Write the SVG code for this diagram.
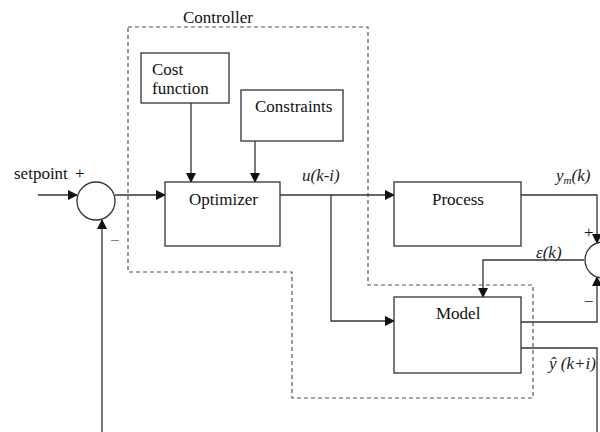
<svg xmlns="http://www.w3.org/2000/svg" width="600" height="432" viewBox="0 0 600 432">
<style>
.box{fill:#fff;stroke:#333;stroke-width:1.3}
.ln{fill:none;stroke:#333;stroke-width:1.3}
.dash{fill:none;stroke:#555;stroke-width:1.2;stroke-dasharray:4 3}
text{font-family:"Liberation Serif","Times New Roman",serif;font-size:17px;fill:#111}
.it{font-style:italic;fill:#222}
.sgn{fill:#666}
</style>
<defs>
<marker id="ah" markerWidth="10" markerHeight="10" refX="9" refY="5" orient="auto" markerUnits="userSpaceOnUse">
<path d="M0,0 L10,5 L0,10 z" fill="#111"/>
</marker>
</defs>
<rect width="600" height="432" fill="#fff"/>
<g id="controller">
<path class="dash" d="M128,27 H368 V285 H533 V398 H292 V272 H128 Z"/>
<text x="183" y="23">Controller</text>
</g>
<g id="connectors">
<line class="ln" x1="38" y1="195" x2="77" y2="195" marker-end="url(#ah)"/>
<line class="ln" x1="115" y1="195" x2="165" y2="195" marker-end="url(#ah)"/>
<line class="ln" x1="102" y1="432" x2="102" y2="220" marker-end="url(#ah)"/>
<line class="ln" x1="191" y1="103" x2="191" y2="182" marker-end="url(#ah)"/>
<line class="ln" x1="255" y1="141" x2="255" y2="182" marker-end="url(#ah)"/>
<line class="ln" x1="280" y1="195" x2="394" y2="195" marker-end="url(#ah)"/>
<polyline class="ln" points="331,195 331,321 394,321" marker-end="url(#ah)"/>
<polyline class="ln" points="521,195 597,195 597,243" marker-end="url(#ah)"/>
<polyline class="ln" points="521,322 597,322 597,277" marker-end="url(#ah)"/>
<polyline class="ln" points="584,260 483,260 483,297" marker-end="url(#ah)"/>
<polyline class="ln" points="521,348 597,348 597,432"/>
</g>
<g id="sum1">
<circle class="box" cx="96" cy="201" r="19"/>
<text x="14" y="179">setpoint</text>
<text x="75" y="179">+</text>
<text class="sgn" x="110" y="246">−</text>
</g>
<g id="cost">
<rect class="box" x="141" y="53" width="88" height="50"/>
<text x="152" y="75">Cost</text>
<text x="152" y="94">function</text>
</g>
<g id="constraints">
<rect class="box" x="241" y="90" width="102" height="51"/>
<text x="255" y="112">Constraints</text>
</g>
<g id="optimizer">
<rect class="box" x="165" y="182" width="115" height="64"/>
<text x="189" y="205">Optimizer</text>
</g>
<g id="process">
<rect class="box" x="394" y="182" width="127" height="64"/>
<text x="432" y="205">Process</text>
</g>
<g id="model">
<rect class="box" x="394" y="297" width="127" height="76"/>
<text x="436" y="319">Model</text>
</g>
<g id="sum2">
<circle class="box" cx="603" cy="260" r="18"/>
<text x="584" y="238" font-size="14">+</text>
<text x="584" y="307">−</text>
</g>
<g id="labels">
<text class="it" x="302" y="181">u(k-i)</text>
<text class="it" x="556" y="181">y<tspan font-size="11" dy="3">m</tspan><tspan dy="-3">(k)</tspan></text>
<text class="it" x="536" y="258">ε(k)</text>
<text class="it" x="549" y="369">ŷ (k+i)</text>
</g>
</svg>
